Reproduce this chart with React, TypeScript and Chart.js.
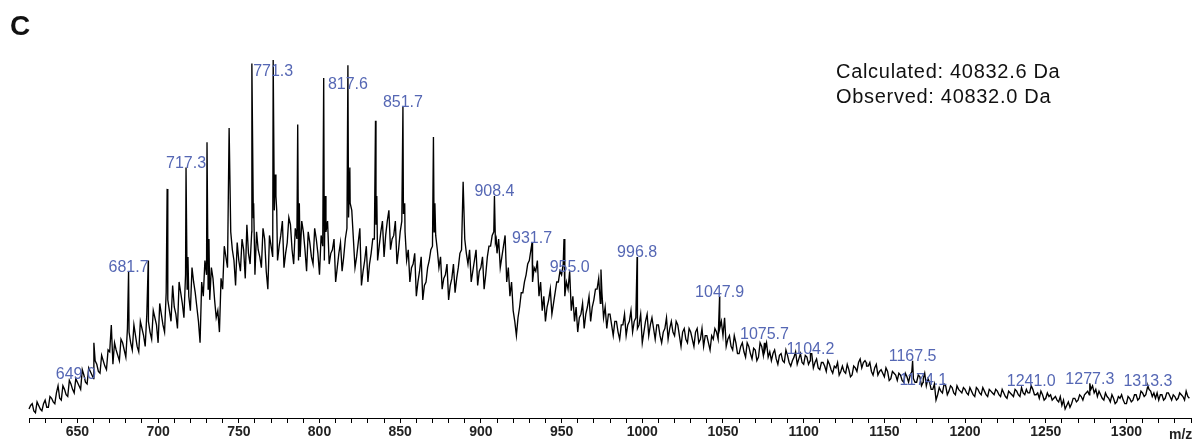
import React, { useEffect, useRef } from "react";
import { Chart, registerables } from "chart.js";

Chart.register(...registerables);

// ---- data ----
// raw spectrum, even m/z samples (620, 622, ...) and odd m/z samples (621, 623, ...)
const EVEN_START_MZ = 620;
const ODD_START_MZ = 621;
const SAMPLE_STEP_MZ = 2;
const evenIntensity: number[] = [
  2.5, 4, 1.5, 3.5, 2, 5, 3, 5.5, 4, 6.5,
  5, 8, 6, 9.5, 7, 10, 8, 12, 9.5, 13,
  11, 15, 12.5, 16, 13.5, 18.5, 15, 19, 16, 21,
  17, 24, 19, 23, 18.5, 25, 20, 27, 22, 28,
  21, 29, 24, 33, 27, 31, 25, 35, 28, 36,
  30, 38, 31, 21, 34, 40, 33, 39, 28, 24,
  36, 45, 40, 47, 37, 44, 50, 39, 46, 52,
  40, 47, 42, 50, 36, 48, 58, 44, 51, 42,
  49, 54, 43, 50, 45, 52, 41, 49, 43, 50,
  40, 48, 52, 43, 47, 38, 46, 41, 50, 56,
  47, 42, 49, 37, 44, 38, 46, 50, 44, 52,
  45, 55, 47, 51, 43, 52, 57, 44, 38, 43,
  34, 41, 33, 38, 44, 48, 51, 42, 36, 40,
  33, 39, 35, 42, 47, 50, 43, 38, 44, 37,
  42, 36, 45, 48, 52, 46, 42, 48, 38, 34,
  30, 23, 31, 35, 40, 44, 38, 41, 34, 30,
  27, 33, 29, 35, 38, 40, 34, 36, 30, 27,
  24, 29, 25, 31, 27, 33, 36, 32, 28, 25,
  29, 23, 27, 22, 26, 23, 27, 24, 28, 26,
  21, 27, 23, 28, 22, 26, 21, 25, 22, 27,
  23, 26, 20, 25, 21, 24, 20, 25, 22, 20,
  23, 19, 22, 24, 25, 23, 20, 23, 19, 21,
  18, 21, 17, 20, 16.5, 19, 17, 20, 19, 17,
  16, 19, 15, 18, 15.5, 17.5, 14.5, 17, 15, 18,
  15, 17, 16, 14, 16.5, 13.5, 15.5, 13, 15, 12.5,
  14, 12, 14.5, 12.5, 13.5, 12, 14, 15.5, 14, 16,
  14.5, 13, 14, 12, 13.5, 11.5, 13, 11, 12.5, 10.5,
  12, 10, 11.5, 12, 11, 10, 11.5, 10, 9, 10,
  8, 5, 8.5, 7, 9, 7.5, 8.5, 6.5, 8, 7,
  8, 6.5, 7.5, 6, 8, 6.5, 7.5, 6, 7.5, 6.5,
  7.5, 6, 7, 5.5, 7, 6, 7.5, 6, 7, 8,
  7, 8, 6.5, 5.5, 6.5, 5.5, 6, 5, 6, 4.5,
  3.5, 2.5, 4.5, 4, 5.5, 5, 6, 6.5, 7.5, 8,
  7, 6, 6.5, 5, 6, 4.5, 5.5, 4.5, 5.5, 5,
  4, 5.5, 5, 6.5, 5.5, 7, 6.5, 8, 6, 5.5,
  5, 6.5, 5.5, 7, 5, 6, 5.5, 6.5, 5, 6,
];
const oddIntensity: number[] = [
  3.5, 2, 4.5, 2.5, 4, 3, 6, 4.5, 7, 5.5,
  9, 6.5, 10.5, 8, 11, 9, 13.5, 10, 14, 12,
  16, 13, 17.5, 14.5, 19, 16.5, 21, 17.5, 22, 19,
  25, 21, 26, 20, 27, 23, 29, 24, 30, 26,
  32, 26, 35, 30, 37, 29, 38, 32, 40, 34,
  42, 35, 27, 38, 44, 36, 42, 33, 30, 39,
  48, 42, 51, 44, 49, 41, 47, 54, 43, 56,
  52, 45, 53, 41, 51, 45, 62, 48, 55, 46,
  56, 47, 53, 44, 55, 47, 52, 45, 53, 46,
  51, 44, 55, 46, 50, 42, 49, 45, 53, 60,
  50, 45, 53, 41, 48, 43, 50, 54, 48, 55,
  51, 58, 50, 55, 47, 55, 52, 47, 42, 46,
  38, 45, 37, 42, 47, 52, 47, 45, 39, 43,
  37, 43, 39, 46, 50, 46, 47, 41, 47, 41,
  45, 40, 48, 51, 49, 50, 45, 51, 42, 38,
  27, 28, 35, 38, 43, 47, 42, 44, 38, 34,
  31, 36, 32, 38, 41, 43, 38, 40, 34, 31,
  28, 32, 29, 34, 31, 36, 39, 35, 31, 29,
  26, 27, 24, 26, 29, 26, 30, 27, 25, 29,
  24, 29, 26, 25, 26, 23, 24, 28, 25, 24,
  27, 23, 24, 22, 25, 22, 24, 21, 25, 23,
  21, 23, 25, 22, 27, 21, 22, 20, 23, 18,
  20, 18.5, 21, 18, 19.5, 16, 21, 17.5, 21, 18.5,
  18, 16.5, 17.5, 16, 19, 15.5, 16, 18.5, 16.5, 15.5,
  17.5, 15, 18, 15.5, 14, 15.5, 14.5, 16, 13.5, 14.5,
  15.5, 13, 13, 15, 11.5, 14.5, 13, 16.5, 15.5, 14.5,
  15.5, 12, 15, 13, 12.5, 14, 10.5, 13, 12, 12.5,
  10.5, 12.5, 10, 13, 10, 12, 9, 12.5, 11, 8,
  9.5, 6.5, 7.5, 9.5, 6.5, 9, 7, 9, 7.5, 8.5,
  7, 8.5, 6.5, 8.5, 7, 8.5, 6.5, 8, 7, 8,
  6.5, 8, 6, 7.5, 6.5, 8, 6.5, 8.5, 6.5, 7,
  8.5, 6.5, 7, 7.5, 5, 7, 6.5, 5.5, 5, 6,
  5, 3.5, 3, 5.5, 4.5, 6.5, 5, 7, 6.5, 9,
  8, 7.5, 5.5, 7, 5.5, 6.5, 4, 6, 6.5, 4,
  6, 4.5, 6.5, 5, 7.5, 6, 8.5, 7.5, 7, 7,
  6.5, 5, 7, 6, 6.5, 5, 7, 6, 7.5, 5.5,
];

// charge-state peaks and their satellites
const peakMz: number[] = [
  638.0, 649.0, 660.2, 671.0, 681.7, 693.9, 705.6, 717.3, 718.5, 730.3,
  731.5, 744.0, 745.0, 758.1, 759.2, 771.3, 772.5, 773.5, 786.5, 787.5,
  802.6, 803.5, 817.6, 818.8, 820.0, 834.7, 835.5, 851.7, 852.8, 870.6,
  871.5, 889.0, 890.0, 908.4, 909.5, 931.7, 951.5, 955.0, 974.4, 996.8,
  1047.9, 1051.0, 1075.7, 1104.2, 1138.7, 1167.5, 1174.1, 1241.0, 1277.3, 1313.3,
];
const peakIntensity: number[] = [
  9, 11, 21, 26, 41, 44, 64, 70, 45, 77,
  50, 81, 52, 99, 60, 100, 68, 58, 82, 60,
  95, 62, 98.5, 70, 58, 83, 62, 87, 60, 78.5,
  60, 66, 50, 62, 50, 49, 50, 41, 41.5, 45,
  34, 28, 21, 18, 15.5, 16, 11, 9, 9.7, 9,
];

// annotated peaks
const labelMz: number[] = [
  649.0, 681.7, 717.3, 771.3, 817.6, 851.7, 908.4, 931.7, 955.0, 996.8,
  1047.9, 1075.7, 1104.2, 1167.5, 1174.1, 1241.0, 1277.3, 1313.3,
];
const labelText: string[] = [
  "649.0", "681.7", "717.3", "771.3", "817.6", "851.7", "908.4", "931.7", "955.0", "996.8",
  "1047.9", "1075.7", "1104.2", "1167.5", "1174.1", "1241.0", "1277.3", "1313.3",
];

const X_MIN = 620;
const X_MAX = 1340;
const X_TICK_STEP = 10;
const X_LABEL_STEP = 50;
const panelLetter = "C";
const massLines: string[] = ["Calculated: 40832.6 Da", "Observed: 40832.0 Da"];
const axisUnit = "m/z";

const LABEL_COLOR = "#5567b4";
const labelOffset: Record<string, number> = { "771.3": 12, "817.6": 19, "1075.7": -8, "1174.1": 2 };

export default function App() {
  const ref = useRef<HTMLCanvasElement | null>(null);

  useEffect(() => {
    document.body.style.margin = "0";
    const canvas = ref.current;
    if (!canvas) return;

    const peakSet = new Set(peakMz);
    const pts: { x: number; y: number }[] = [];
    evenIntensity.forEach((v, i) => {
      const x = EVEN_START_MZ + i * SAMPLE_STEP_MZ;
      if (!peakSet.has(x)) pts.push({ x, y: v });
    });
    oddIntensity.forEach((v, i) => {
      const x = ODD_START_MZ + i * SAMPLE_STEP_MZ;
      if (!peakSet.has(x)) pts.push({ x, y: v });
    });
    peakMz.forEach((m, i) => pts.push({ x: m, y: peakIntensity[i] }));
    pts.sort((a, b) => a.x - b.x);

    const annot = {
      id: "annot",
      afterDatasetsDraw(chart: any) {
        const ctx = chart.ctx;
        const xs = chart.scales.x;
        const ys = chart.scales.y;
        ctx.save();
        ctx.font = '16px "Liberation Sans", Arial, sans-serif';
        ctx.fillStyle = LABEL_COLOR;
        ctx.textAlign = "center";
        ctx.textBaseline = "middle";
        labelMz.forEach((m, i) => {
          const idx = peakMz.indexOf(m);
          const h = idx >= 0 ? peakIntensity[idx] : 10;
          const dy = labelOffset[labelText[i]] ?? -4;
          ctx.fillText(labelText[i], xs.getPixelForValue(m), ys.getPixelForValue(h) + dy);
        });
        ctx.restore();
      },
      afterDraw(chart: any) {
        const ctx = chart.ctx;
        ctx.save();
        ctx.fillStyle = "#111";
        ctx.textAlign = "left";
        ctx.textBaseline = "alphabetic";
        ctx.font = 'bold 28px "Liberation Sans", Arial, sans-serif';
        ctx.fillText(panelLetter, 10, 35);
        ctx.font = '20px "Liberation Sans", Arial, sans-serif';
        (ctx as any).letterSpacing = "0.7px";
        ctx.fillText(massLines[0], 836, 78);
        ctx.fillText(massLines[1], 836, 103);
        (ctx as any).letterSpacing = "0px";
        ctx.font = 'bold 14px "Liberation Sans", Arial, sans-serif';
        ctx.fillStyle = "#222";
        ctx.fillText(axisUnit, 1169, 439);
        ctx.restore();
      },
    };

    const chart = new Chart(canvas, {
      type: "line",
      data: {
        datasets: [
          {
            data: pts,
            borderColor: "#000",
            borderWidth: 1.35,
            pointRadius: 0,
            tension: 0,
            fill: false,
            clip: false as any,
          },
        ],
      },
      options: {
        animation: false,
        responsive: false,
        devicePixelRatio: 1,
        events: [],
        layout: { padding: { left: 29, right: 0, top: 60, bottom: 0 } },
        plugins: { legend: { display: false }, tooltip: { enabled: false }, title: { display: false } },
        scales: {
          x: {
            type: "linear",
            min: X_MIN,
            max: X_MAX,
            grid: {
              drawOnChartArea: false,
              drawTicks: true,
              tickLength: 5,
              tickColor: "#000",
              tickWidth: 1,
            },
            border: { display: true, color: "#000", width: 1 },
            ticks: {
              stepSize: X_TICK_STEP,
              autoSkip: false,
              maxRotation: 0,
              includeBounds: false,
              padding: 2,
              color: "#222",
              font: { family: '"Liberation Sans", Arial, sans-serif', size: 14, weight: "bold", lineHeight: 1 },
              callback: (v: any) => (Number(v) % X_LABEL_STEP === 0 ? String(v) : ""),
            },
          },
          y: { display: false, min: 0, max: 100 },
        },
      },
      plugins: [annot],
    });
    return () => chart.destroy();
  }, []);

  return (
    <div style={{ width: 1193, height: 441, background: "#fff" }}>
      <canvas ref={ref} width={1193} height={441} style={{ display: "block" }} />
    </div>
  );
}
